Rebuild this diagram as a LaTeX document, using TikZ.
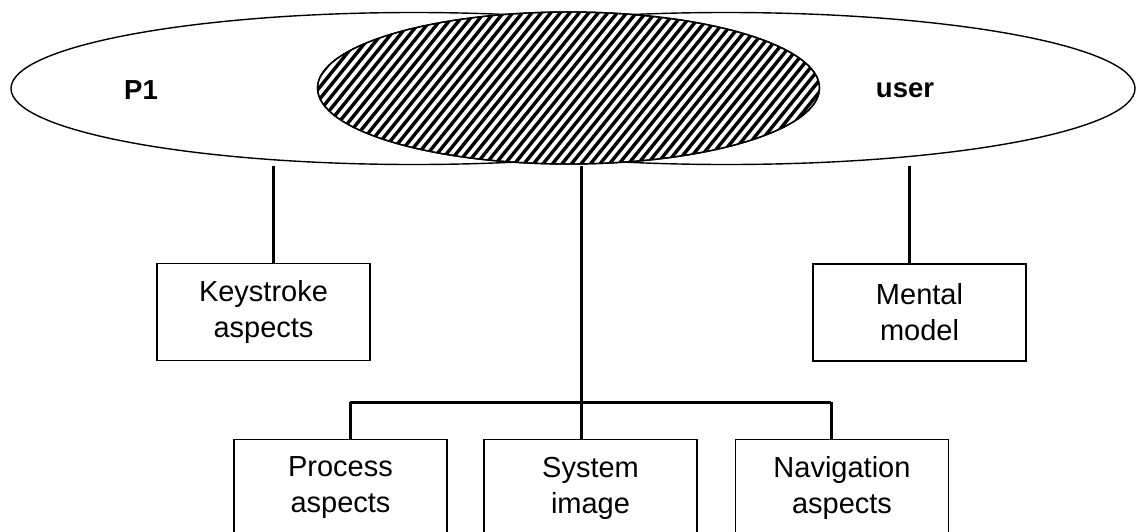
\documentclass[tikz,border=0pt]{standalone}
\usepackage{fontspec}
\setmainfont{Liberation Sans}
\usetikzlibrary{shapes.geometric}
\begin{document}
\begin{tikzpicture}[x=1pt,y=-1pt,
  conn/.style={line width=3pt},
  setshape/.style={draw, line width=1.4pt, ellipse, inner sep=0pt},
  stripe/.style={line width=3.4pt},
  box/.style={draw, line width=1.2pt, minimum width=213pt, minimum height=97pt,
    inner sep=0pt, align=center, font=\fontsize{29}{36}\selectfont},
  setlabel/.style={font=\bfseries\fontsize{27.5}{30}\selectfont, inner sep=0pt}]
\useasboundingbox (0,0) rectangle (1138,531);
\clip (0,0) rectangle (1138,531);
% sets
\node[setshape, minimum width=806pt, minimum height=152pt] (pset) at (414,88.5) {};
\node[setshape, minimum width=817pt, minimum height=152pt] (uset) at (726.5,88.5) {};
\node[setshape, fill=white, minimum width=502pt, minimum height=152pt] (iset) at (568.5,88) {};
\begin{scope}
  \clip (568.5,88) ellipse [x radius=251pt, y radius=76pt];
  \foreach \i in {0,...,72} {
    \draw[stripe] ({150+\i*9.5},180) -- ++(145,-180);
  }
\end{scope}
\draw[line width=1.4pt] (568.5,88) ellipse [x radius=251pt, y radius=76pt];
\node[setlabel] (p1) at (141,90) {P1};
\node[setlabel] (usr) at (905,90) {user};
% boxes
\node[box] (key) at (263.5,312) {Keystroke\\aspects};
\node[box] (men) at (919.5,312.5) {Mental\\model};
\node[box] (pro) at (340.5,488) {Process\\aspects};
\node[box] (sim) at (590.5,488) {System\\image};
\node[box] (nav) at (842,488) {Navigation\\aspects};
% connectors
\coordinate (kt) at (273,166);
\coordinate (mt) at (909,166);
\coordinate (st) at (581,166);
\coordinate (bus) at (581,402);
\coordinate (busl) at (350,402);
\coordinate (busr) at (831,402);
\draw[conn] (kt) -- (key.north -| kt);
\draw[conn] (mt) -- (men.north -| mt);
\draw[conn] (st) -- (bus);
\draw[conn] (busl) -- (busr);
\draw[conn] (busl) -- (pro.north -| busl);
\draw[conn] (bus) -- (sim.north -| bus);
\draw[conn] (busr) -- (nav.north -| busr);
\end{tikzpicture}
\end{document}
